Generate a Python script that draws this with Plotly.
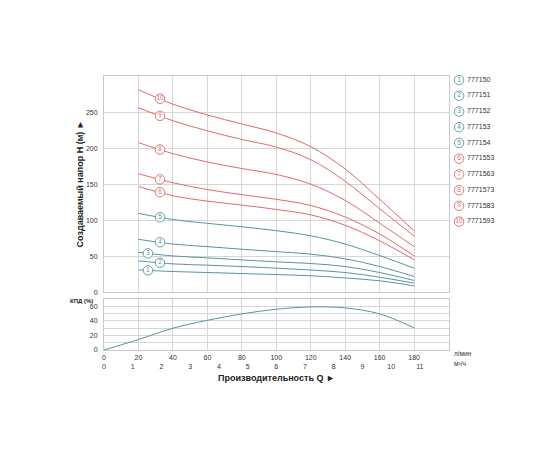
import numpy as np
import plotly.graph_objects as go

# ---- data ----
q_lmin = [20, 40, 60, 80, 100, 120, 140, 160, 180]
curve_ids = ["1", "2", "3", "4", "5", "6", "7", "8", "9", "10"]
models = ["777150", "777151", "777152", "777153", "777154",
          "7771553", "7771563", "7771573", "7771583", "7771593"]
head_1 = [31.2, 28.9, 27.5, 26.1, 24.7, 23.0, 20.0, 16.0, 9.0]
head_2 = [43.6, 39.5, 37.7, 35.8, 33.6, 31.0, 27.5, 21.0, 12.8]
head_3 = [55.5, 50.5, 47.8, 45.0, 42.3, 40.0, 35.8, 27.5, 16.5]
head_4 = [73.6, 67.0, 63.4, 59.8, 56.5, 53.0, 46.5, 35.8, 22.0]
head_5 = [109.5, 101.0, 95.7, 91.0, 85.5, 78.5, 67.0, 51.0, 33.5]
head_6 = [146.8, 134.0, 126.5, 121.0, 115.0, 107.5, 93.0, 71.5, 45.0]
head_7 = [164.5, 152.0, 142.5, 135.5, 129.0, 120.5, 104.5, 81.0, 50.5]
head_8 = [207.6, 192.4, 180.8, 171.7, 163.5, 150.0, 127.5, 96.0, 63.4]
head_9 = [256.0, 238.0, 224.0, 212.0, 201.5, 184.0, 154.0, 116.0, 78.0]
head_10 = [281.0, 261.0, 246.0, 233.5, 221.0, 202.0, 171.0, 129.0, 85.5]
heads = [head_1, head_2, head_3, head_4, head_5,
         head_6, head_7, head_8, head_9, head_10]
label_q = [25.5, 32.5, 25.5, 32.5, 32.5, 32.5, 32.5, 32.5, 32.5, 32.5]

eff_q = [0, 20, 40, 60, 80, 100, 120, 140, 160, 180]
eff_val = [0, 14.4, 29.9, 40.8, 49.6, 56.0, 59.2, 57.8, 49.6, 30.4]

lmin_ticks = [0, 20, 40, 60, 80, 100, 120, 140, 160, 180]
m3h_ticks = list(range(0, 12))
h_ticks = [0, 50, 100, 150, 200, 250]

# ---- style ----
RED = "#e06a6a"
BLUE = "#5a93a3"
GRID = "#d6d6d6"
FONT = "Liberation Sans, Arial, sans-serif"
TICKC = "#333333"

W, H = 560, 460
OFF = 8  # page body margin in the browser
ML, MR, MT, MB = 103.5 - OFF, 40 + OFF, 76 - OFF, 109.7 + OFF
pw = W - ML - MR
ph = H - MT - MB


def px_x(px):
    return (px - OFF - ML) / pw


def px_y(py):
    return (H - MB - (py - OFF)) / ph


xdom = [0, px_x(448.5)]
up_dom = [px_y(292.6), 1]
low_dom = [0, px_y(299.3)]
leg_dom = [px_x(450), 1]

fig = go.Figure()

for i, (cid, h) in enumerate(zip(curve_ids, heads)):
    col = BLUE if i < 5 else RED
    fig.add_trace(go.Scatter(x=q_lmin, y=h, mode="lines",
                             line=dict(color=col, width=1, shape="spline", smoothing=1.0),
                             xaxis="x", yaxis="y", hoverinfo="skip", showlegend=False))
    lq = label_q[i]
    ly = float(np.interp(lq, q_lmin, h))
    fig.add_trace(go.Scatter(x=[lq], y=[ly], mode="markers+text", text=[cid],
                             textposition="middle center",
                             textfont=dict(color=col, size=6.5, family=FONT),
                             marker=dict(size=9.5, color="white", line=dict(color=col, width=0.9)),
                             xaxis="x", yaxis="y", hoverinfo="skip", showlegend=False,
                             cliponaxis=False))

fig.add_trace(go.Scatter(x=eff_q, y=eff_val, mode="lines",
                         line=dict(color=BLUE, width=1, shape="spline", smoothing=1.0),
                         xaxis="x2", yaxis="y2", hoverinfo="skip", showlegend=False))

# dummy trace for the m3/h axis
fig.add_trace(go.Scatter(x=[0, 12], y=[None, None], mode="lines",
                         xaxis="x3", yaxis="y2", hoverinfo="skip", showlegend=False))

# legend block
idx = list(range(len(models)))
leg_cols = [BLUE if i < 5 else RED for i in idx]
fig.add_trace(go.Scatter(x=[9] * len(idx), y=idx, mode="markers+text", text=curve_ids,
                         textposition="middle center",
                         textfont=dict(color=leg_cols, size=6.5, family=FONT),
                         marker=dict(size=9.5, color="white", line=dict(color=leg_cols, width=0.9)),
                         xaxis="x4", yaxis="y4", hoverinfo="skip", showlegend=False,
                         cliponaxis=False))
fig.add_trace(go.Scatter(x=[17] * len(idx), y=idx, mode="text", text=models,
                         textposition="middle right",
                         textfont=dict(color="#333333", size=7, family=FONT),
                         xaxis="x4", yaxis="y4", hoverinfo="skip", showlegend=False,
                         cliponaxis=False))

ax_common = dict(showgrid=True, gridcolor=GRID, gridwidth=1, zeroline=False,
                 showline=True, linecolor="#c8c8c8", linewidth=1, mirror=True,
                 ticks="", tickfont=dict(size=7, color=TICKC, family=FONT))

fig.update_layout(
    width=W, height=H,
    margin=dict(l=ML, r=MR, t=MT, b=MB, pad=0),
    paper_bgcolor="white", plot_bgcolor="white",
    font=dict(family=FONT, color=TICKC),
    xaxis=dict(domain=xdom, anchor="y", range=[0, 200], dtick=20, tick0=0,
               showticklabels=False, **ax_common),
    yaxis=dict(domain=up_dom, anchor="x", range=[0, 300], dtick=50,
               tickvals=h_ticks, ticklabelstandoff=4, **ax_common),
    xaxis2=dict(domain=xdom, anchor="y2", range=[0, 200], tickvals=lmin_ticks,
                ticklabelstandoff=1, **ax_common),
    yaxis2=dict(domain=low_dom, anchor="x2", range=[0, 70], dtick=10,
                tickvals=[0, 10, 20, 30, 40, 50, 60],
                ticktext=["0", "", "20", "", "40", "", "60"],
                ticklabelstandoff=4, **ax_common),
    xaxis3=dict(domain=xdom, overlaying="x2", anchor="free", position=0, side="bottom",
                range=[0, 12], tickvals=m3h_ticks, showgrid=False, showline=False,
                zeroline=False, ticks="", ticklabelstandoff=11,
                tickfont=dict(size=7, color=TICKC, family=FONT)),
    xaxis4=dict(domain=leg_dom, anchor="y4", range=[0, 70], visible=False),
    yaxis4=dict(domain=up_dom, anchor="x4", range=[13.5, -0.254], visible=False),
    annotations=[
        dict(text="<b>Создаваемый напор H (м) ►</b>", xref="paper", yref="paper",
             x=px_x(79), y=px_y(184), xanchor="center", yanchor="middle",
             textangle=-90, showarrow=False, font=dict(size=9, color="#222222", family=FONT)),
        dict(text="<b>КПД (%)</b>", xref="paper", yref="paper",
             x=px_x(81), y=px_y(301), xanchor="center", yanchor="middle",
             showarrow=False, font=dict(size=6, color="#222222", family=FONT)),
        dict(text="л/мин", xref="paper", yref="paper",
             x=px_x(452), y=px_y(354), xanchor="left", yanchor="middle",
             showarrow=False, font=dict(size=6.5, color=TICKC, family=FONT)),
        dict(text="м³/ч", xref="paper", yref="paper",
             x=px_x(452), y=px_y(364), xanchor="left", yanchor="middle",
             showarrow=False, font=dict(size=6.5, color=TICKC, family=FONT)),
        dict(text="<b>Производительность Q ►</b>", xref="paper", yref="paper",
             x=px_x(276), y=px_y(378), xanchor="center", yanchor="middle",
             showarrow=False, font=dict(size=9, color="#222222", family=FONT)),
    ],
)

fig.write_html("out.html")
